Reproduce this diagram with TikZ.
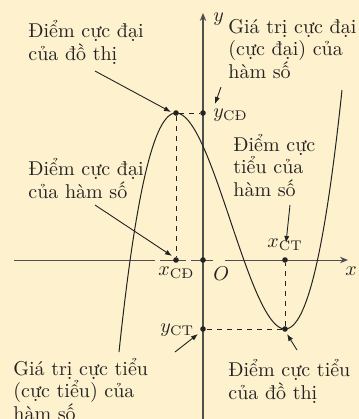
\documentclass[tikz,border=0pt]{standalone}
\usepackage{fontspec}
\usepackage{amsmath}
\usetikzlibrary{arrows.meta}
\definecolor{bg}{RGB}{254,241,206}
\definecolor{ink}{RGB}{35,35,35}
\begin{document}
\begin{tikzpicture}[x=0.5pt,y=-0.5pt,
  lbl/.style={font=\fontsize{10}{11.2}\selectfont, align=left, anchor=base west, inner sep=0pt, text=ink},
  mlbl/.style={font=\fontsize{10}{12}\selectfont, anchor=base west, inner sep=0pt, text=ink},
  axisline/.style={draw=ink!80, line width=0.5pt},
  guide/.style={draw=ink, dash pattern=on 2.5pt off 2.5pt, line width=0.45pt},
  pointer/.style={draw=ink, -{Latex[length=3.5pt,width=2.6pt]}, line width=0.45pt},
  dotpt/.style={circle, fill=ink, inner sep=0pt, minimum size=2.8pt}]
\fill[bg] (0,0) rectangle (359,419);
\useasboundingbox (0,0) rectangle (359,419);
% axes
\coordinate (xl) at (14,260);
\coordinate (xa) at (155,260);
\coordinate (xb) at (160,260);
\coordinate (xc) at (186,260);
\coordinate (xd) at (191,260);
\coordinate (xe) at (213,260);
\coordinate (xf) at (225,260);
\coordinate (xr) at (348,260);
\coordinate (yb) at (203,425);
\coordinate (yt) at (203,13);
\draw[axisline] (xl) -- (xa);
\draw[axisline] (xb) -- (xc);
\draw[axisline] (xd) -- (xe);
\draw[axisline, -{Stealth[length=4pt,width=3.2pt]}] (xf) -- (xr);
\draw[axisline, -{Stealth[length=4pt,width=3.2pt]}] (yb) -- (yt);
% curve
\draw[ink, line width=0.5pt] plot[domain=119:342, samples=120, smooth]
  (\x, {113+216*(3*((\x-176)/109)*((\x-176)/109) - 2*((\x-176)/109)*((\x-176)/109)*((\x-176)/109))});
% key points
\node[dotpt] (M) at (176,113) {};
\node[dotpt] (m) at (285,329) {};
\node[dotpt] (xcd) at (176,260) {};
\node[dotpt] (O) at (203,260) {};
\node[dotpt] (ycd) at (203,113) {};
\node[dotpt] (xct) at (285,260) {};
\node[dotpt] (yct) at (203,329) {};
\draw[guide] (M) -- (xcd);
\draw[guide] (M) -- (ycd);
\draw[guide] (m) -- (yct);
\draw[guide] (m) -- (xct);
% math labels
\node[mlbl] (ylab) at (213,21) {$y$};
\node[mlbl] (xlab) at (345,275) {$x$};
\node[mlbl] (Olab) at (213,280) {$O$};
\node[mlbl] (xcdlab) at (158,275) {$x_{\text{CĐ}}$};
\node[mlbl] (ycdlab) at (213,117) {$y_{\text{CĐ}}$};
\node[mlbl] (xctlab) at (267,247) {$x_{\text{CT}}$};
\node[mlbl] (yctlab) at (160,332) {$y_{\text{CT}}$};
% text labels (anchor at baseline of last line)
\node[lbl] (t1) at (28,60) {Điểm cực đại\\của đồ thị};
\node[lbl] (t2) at (228,78) {Giá trị cực đại\\(cực đại) của\\hàm số};
\node[lbl] (t3) at (28,198) {Điểm cực đại\\của hàm số};
\node[lbl] (t4) at (233,196) {Điểm cực\\tiểu của\\hàm số};
\node[lbl] (t5) at (13,420) {Giá trị cực tiểu\\(cực tiểu) của\\hàm số};
\node[lbl] (t6) at (228,399) {Điểm cực tiểu\\của đồ thị};
% pointers
\coordinate (a1s) at (95,71);   \coordinate (a1e) at (171,112);
\coordinate (a2s) at (221,87);  \coordinate (a2e) at (215,104);
\coordinate (a3s) at (95,205);  \coordinate (a3e) at (172,256);
\coordinate (a4s) at (290,205); \coordinate (a4e) at (286,243);
\coordinate (a5s) at (175,352); \coordinate (a5e) at (198,334);
\coordinate (a6s) at (297,350); \coordinate (a6e) at (287,334);
\draw[pointer] (a1s) -- (a1e);
\draw[pointer] (a2s) -- (a2e);
\draw[pointer] (a3s) -- (a3e);
\draw[pointer] (a4s) -- (a4e);
\draw[pointer] (a5s) -- (a5e);
\draw[pointer] (a6s) -- (a6e);
\end{tikzpicture}
\end{document}
